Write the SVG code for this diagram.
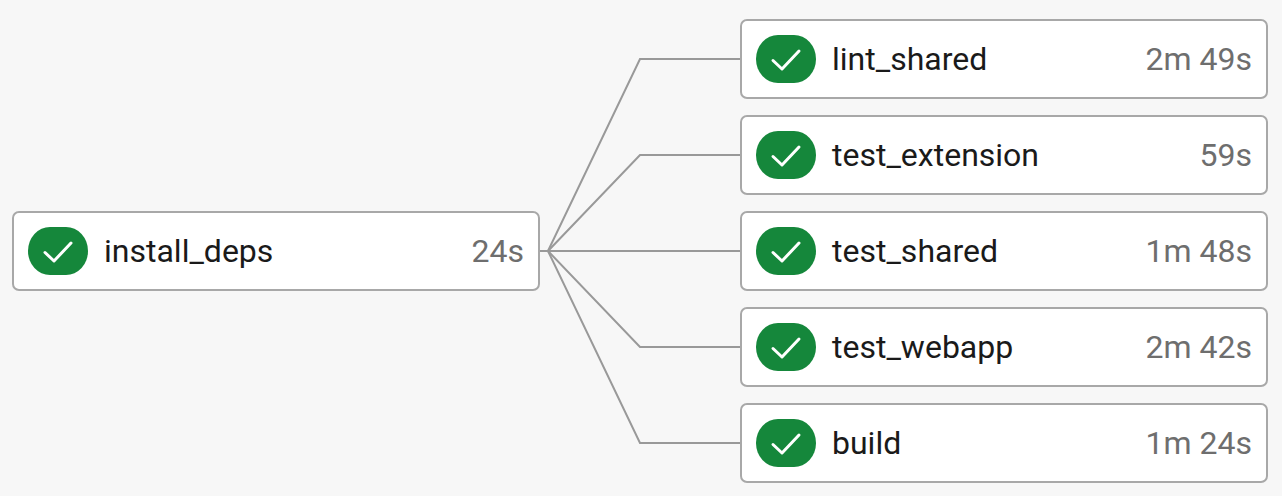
<svg xmlns="http://www.w3.org/2000/svg" width="1282" height="496" viewBox="0 0 1282 496">
<style>
.box{fill:#fff;stroke:#a8a8a8;stroke-width:2}
.pill{fill:#15873b}
.chk{fill:none;stroke:#fff;stroke-width:3;stroke-linecap:round;stroke-linejoin:round}
.name{font:32px Roboto,sans-serif;fill:#1a1a1a}
.time{font:32px Roboto,sans-serif;fill:#6e6e6e;text-anchor:end}
.edge{fill:none;stroke:#999;stroke-width:2}
</style>
<defs>
<g id="badge"><rect class="pill" x="0" y="0" width="60" height="48" rx="22" ry="24"/><path class="chk" d="M17 25.500L26 34L43 16"/></g>
</defs>
<rect width="1282" height="496" fill="#f7f7f7"/>
<g id="connectors">
<path class="edge" d="M540 251H548L640 59H741"/>
<path class="edge" d="M548 251L640 155H741"/>
<path class="edge" d="M548 251H741"/>
<path class="edge" d="M548 251L640 347H741"/>
<path class="edge" d="M548 251L640 443H741"/>
</g>
<g id="install_deps"><rect class="box" x="13" y="212" width="526" height="78" rx="6"/><use href="#badge" x="28" y="227"/><text class="name" x="104" y="262">install_deps</text><text class="time" x="524" y="262">24s</text></g>
<g id="lint_shared"><rect class="box" x="741" y="20" width="526" height="78" rx="6"/><use href="#badge" x="756" y="35"/><text class="name" x="832" y="70">lint_shared</text><text class="time" x="1252" y="70">2m 49s</text></g>
<g id="test_extension"><rect class="box" x="741" y="116" width="526" height="78" rx="6"/><use href="#badge" x="756" y="131"/><text class="name" x="832" y="166">test_extension</text><text class="time" x="1252" y="166">59s</text></g>
<g id="test_shared"><rect class="box" x="741" y="212" width="526" height="78" rx="6"/><use href="#badge" x="756" y="227"/><text class="name" x="832" y="262">test_shared</text><text class="time" x="1252" y="262">1m 48s</text></g>
<g id="test_webapp"><rect class="box" x="741" y="308" width="526" height="78" rx="6"/><use href="#badge" x="756" y="323"/><text class="name" x="832" y="358">test_webapp</text><text class="time" x="1252" y="358">2m 42s</text></g>
<g id="build"><rect class="box" x="741" y="404" width="526" height="78" rx="6"/><use href="#badge" x="756" y="419"/><text class="name" x="832" y="454">build</text><text class="time" x="1252" y="454">1m 24s</text></g>
</svg>
